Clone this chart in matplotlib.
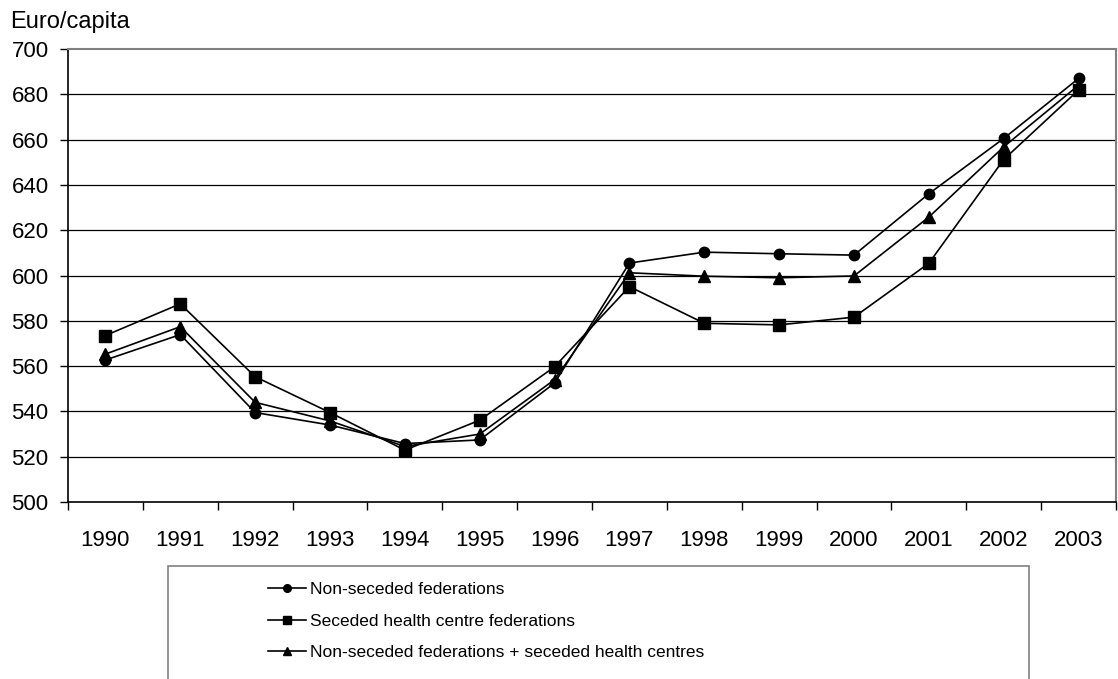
import matplotlib
matplotlib.use("Agg")
import matplotlib.pyplot as plt
from matplotlib.patches import Rectangle
from matplotlib.lines import Line2D

years = ["1990", "1991", "1992", "1993", "1994", "1995", "1996",
         "1997", "1998", "1999", "2000", "2001", "2002", "2003"]
non_seceded = [562.7, 573.9, 539.5, 534.0, 525.8, 527.4, 552.5,
               605.5, 610.3, 609.6, 609.0, 636.1, 660.5, 687.0]
seceded_hc = [573.5, 587.5, 555.3, 539.5, 522.9, 536.1, 559.7,
              595.1, 578.9, 578.2, 581.6, 605.4, 651.2, 681.9]
combined = [565.3, 577.4, 544.0, 535.8, 524.5, 530.0, 554.0,
            601.2, 599.7, 599.0, 599.8, 625.8, 656.8, 684.0]
labels = ["Non-seceded federations",
          "Seceded health centre federations",
          "Non-seceded federations + seceded health centres"]
y_ticks = [500, 520, 540, 560, 580, 600, 620, 640, 660, 680, 700]

plt.rcParams['font.family'] = ['Liberation Sans', 'DejaVu Sans']
W, H = 1118, 679
fig = plt.figure(figsize=(W / 100, H / 100), dpi=100)
ax = fig.add_axes([68 / W, 1 - 502 / H, (1116 - 68) / W, (502 - 49) / H])

x = list(range(len(years)))
lw = 1.2
ax.plot(x, non_seceded, color='black', lw=lw, marker='o', ms=7.5, zorder=3)
ax.plot(x, seceded_hc, color='black', lw=lw, marker='s', ms=8, zorder=3)
ax.plot(x, combined, color='black', lw=lw, marker='^', ms=8, zorder=3)

ax.set_xlim(-0.5, len(years) - 0.5)
ax.set_ylim(500, 700)
ax.set_yticks(y_ticks)
ax.set_yticklabels([str(v) for v in y_ticks])
ax.set_xticks(x)
ax.set_xticklabels(years)
ax.set_xticks([i - 0.5 for i in range(len(years) + 1)], minor=True)

for v in y_ticks[1:-1]:
    ax.axhline(v, color='black', lw=0.9, zorder=1)

ax.tick_params(axis='x', which='major', length=0, pad=20, labelsize=16)
ax.tick_params(axis='x', which='minor', length=6, width=1, color='black', direction='out')
ax.tick_params(axis='y', which='major', length=6, width=1, color='black', direction='out', pad=8, labelsize=16)

ax.spines['left'].set_color('black')
ax.spines['bottom'].set_color('black')
ax.spines['left'].set_linewidth(1.2)
ax.spines['bottom'].set_linewidth(1.2)
ax.spines['top'].set_color('#808080')
ax.spines['right'].set_color('#808080')
ax.spines['top'].set_linewidth(1.5)
ax.spines['right'].set_linewidth(1.5)

fig.text(10 / W, 1 - 22 / H, "Euro/capita", fontsize=17, va='center', ha='left')

# legend box
fig.patches.append(Rectangle((168 / W, 1 - 700 / H), (1029 - 168) / W, (700 - 566) / H,
                             transform=fig.transFigure, facecolor='white',
                             edgecolor='#808080', lw=1.2, zorder=0))
handles = [Line2D([], [], color='black', lw=lw, marker='o', ms=5.5),
           Line2D([], [], color='black', lw=lw, marker='s', ms=6),
           Line2D([], [], color='black', lw=lw, marker='^', ms=6)]
leg = fig.legend(handles, labels, loc='upper left',
                 bbox_to_anchor=(268 / W, 1 - 582 / H), frameon=False,
                 handlelength=2.2, handletextpad=0.2, labelspacing=0.95,
                 borderpad=0, borderaxespad=0,
                 prop={'size': 12.5})

fig.savefig("out.png", dpi=100)
